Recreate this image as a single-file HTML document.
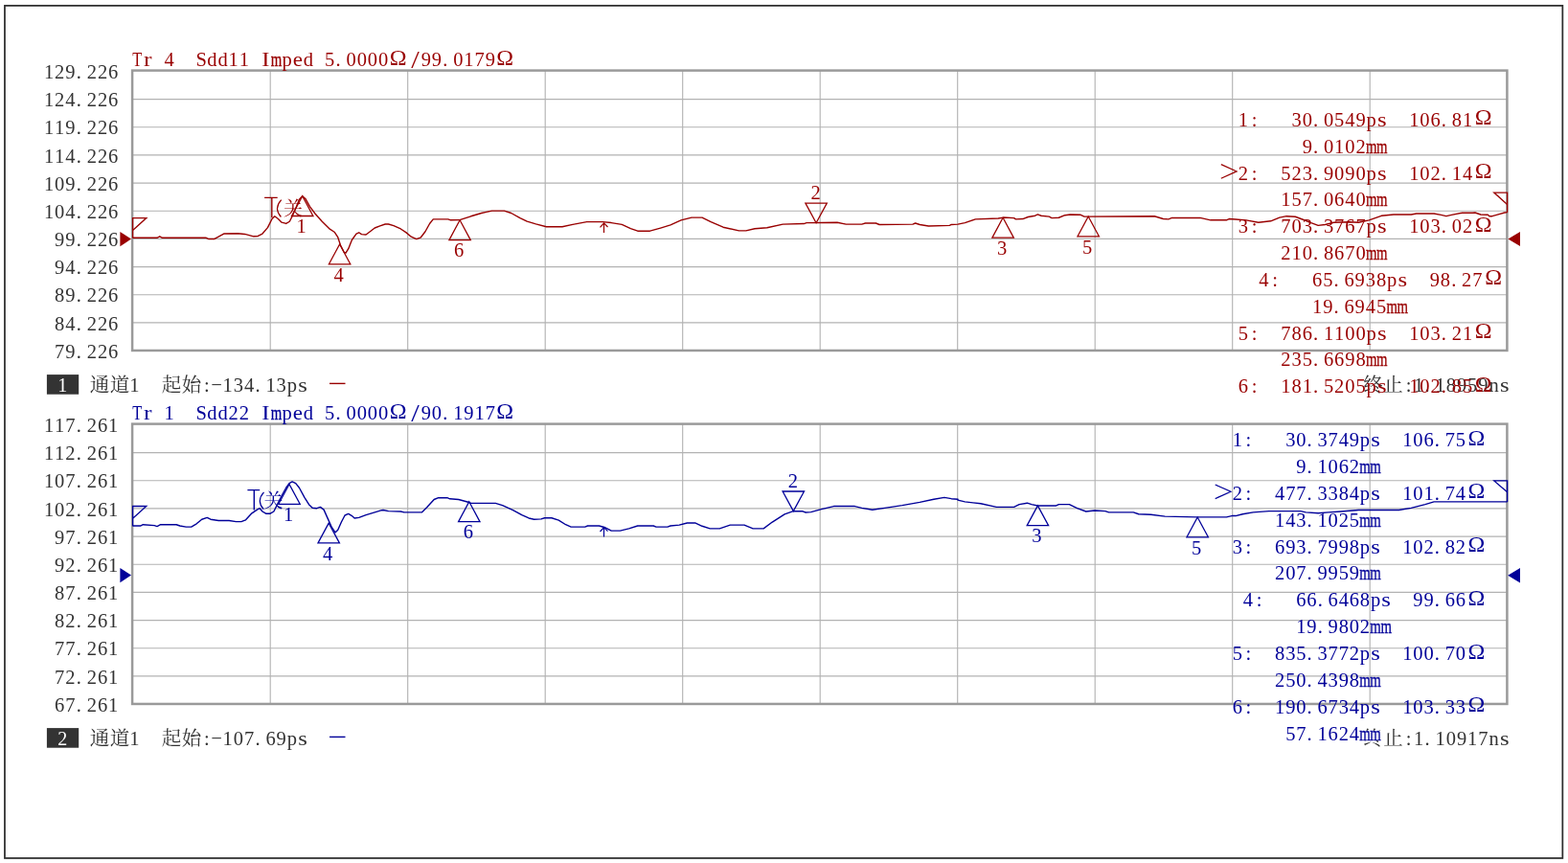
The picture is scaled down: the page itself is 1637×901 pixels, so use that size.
<!DOCTYPE html>
<html><head><meta charset="utf-8"><title>TDR</title>
<style>html,body{margin:0;padding:0;background:#fff;overflow:hidden}svg{display:block}text{font-family:"Liberation Serif",serif;text-anchor:middle;white-space:pre}text.cj{font-family:"Liberation Serif","Noto Serif CJK SC",serif}</style>
</head><body>
<svg width="1637" height="901" viewBox="0 0 1637 901">
<rect width="1637" height="901" fill="#fff"/>
<defs><filter id="gs" filterUnits="userSpaceOnUse" x="0" y="0" width="1637" height="901"><feOffset dx="0" dy="0"/></filter></defs>
<g filter="url(#gs)">
<rect x="4.95" y="5.9" width="1626.4" height="890.05" fill="none" stroke="#2d2d2d" stroke-width="1.75"/>
<path d="M282.2 73.6V365.95M138.1 103.57H1573.4M425.7 73.6V365.95M138.1 132.74H1573.4M569.2 73.6V365.95M138.1 161.91H1573.4M712.7 73.6V365.95M138.1 191.08H1573.4M856.2 73.6V365.95M138.1 220.25H1573.4M999.7 73.6V365.95M138.1 249.42H1573.4M1143.2 73.6V365.95M138.1 278.59H1573.4M1286.7 73.6V365.95M138.1 307.76H1573.4M1430.2 73.6V365.95M138.1 336.93H1573.4" stroke="#b2b2b2" stroke-width="1.12" fill="none"/>
<rect x="138.1" y="73.6" width="1435.3" height="292.35" fill="none" stroke="#9a9a9a" stroke-width="2.5"/>
<text x="51 62.2 73.4 82.3 95.8 107 118.2" y="82" fill="#333333" font-size="20.5">129.226</text>
<text x="51 62.2 73.4 82.3 95.8 107 118.2" y="111.17" fill="#333333" font-size="20.5">124.226</text>
<text x="51 62.2 73.4 82.3 95.8 107 118.2" y="140.34" fill="#333333" font-size="20.5">119.226</text>
<text x="51 62.2 73.4 82.3 95.8 107 118.2" y="169.51" fill="#333333" font-size="20.5">114.226</text>
<text x="51 62.2 73.4 82.3 95.8 107 118.2" y="198.68" fill="#333333" font-size="20.5">109.226</text>
<text x="51 62.2 73.4 82.3 95.8 107 118.2" y="227.85" fill="#333333" font-size="20.5">104.226</text>
<text x="62.2 73.4 82.3 95.8 107 118.2" y="257.02" fill="#333333" font-size="20.5">99.226</text>
<text x="62.2 73.4 82.3 95.8 107 118.2" y="286.19" fill="#333333" font-size="20.5">94.226</text>
<text x="62.2 73.4 82.3 95.8 107 118.2" y="315.36" fill="#333333" font-size="20.5">89.226</text>
<text x="62.2 73.4 82.3 95.8 107 118.2" y="344.53" fill="#333333" font-size="20.5">84.226</text>
<text x="62.2 73.4 82.3 95.8 107 118.2" y="373.7" fill="#333333" font-size="20.5">79.226</text>
<text x="176.69 210.21 221.38 232.54 243.72 254.89 299.56 321.9 344.24 353.11 366.58 377.75 388.93 400.09 444.77 455.94 464.81 478.29 489.45 500.62 511.8" y="69.2" fill="#990000" font-size="20.5">4Sdd11pd5.000099.0179</text>
<text transform="translate(143.19 69.2) scale(0.8 1)" fill="#990000" font-size="20.5">T</text>
<text transform="translate(154.35 69.2) scale(1.25 1)" fill="#990000" font-size="20.5">r</text>
<text transform="translate(277.22 69.2) scale(1.2 1)" fill="#990000" font-size="20.5">I</text>
<text transform="translate(288.39 69.2) scale(0.72 1)" fill="#990000" font-size="20.5" stroke="#990000" stroke-width="0.35">m</text>
<text transform="translate(310.73 69.2) scale(1.12 1)" fill="#990000" font-size="20.5">e</text>
<text transform="translate(415.55 67.7) scale(1 1)" fill="#990000" font-size="23.98">Ω</text>
<text transform="translate(433.6 71.4) scale(1.5 1.28)" fill="#990000" font-size="20.5">/</text>
<text transform="translate(527.25 67.7) scale(1 1)" fill="#990000" font-size="23.98">Ω</text>
<polyline points="138.33,248.28 163.98,248.28 166.73,246.81 169.48,248.28 215.3,248.28 218.04,249.56 223.54,249.56 228.12,247.18 233.62,244.06 248.28,243.7 255.61,244.43 259.28,245.34 264.78,246.81 269.36,246.44 273.94,244.06 279.44,237.65 284.02,228.48 286.77,225.74 290.43,228.48 294.1,232.15 298.68,233.43 302.34,231.23 305.09,225.74 308.76,217.49 312.42,208.33 315.72,204.66 318.84,207.41 323.42,215.66 328.92,222.99 336.25,231.23 343.58,238.56 349.08,242.23 352.74,247.73 355.49,255.97 359.16,263.3 360.99,264.22 363.74,259.64 367.4,250.48 371.98,244.06 374.73,242.78 377.48,244.61 382.06,244.98 385.73,242.23 391.23,238.01 396.72,235.82 402.22,233.98 405.5,234.03 411,235.68 418.33,238.98 423.82,242.65 429.32,247.23 434.82,249.61 439.4,247.78 443.98,241.73 448.56,233.48 452.23,228.9 467.81,228.9 470.56,229.82 480.63,229.45 491.63,225.79 502.63,222.49 513.62,220.11 526.45,220.11 533.78,222.49 542.94,227.62 550.27,231.1 559.44,233.85 570.43,236.78 586.93,236.78 597.92,234.4 612.58,231.65 629.08,231.65 638.24,232.57 649.23,234.4 658.4,238.62 665.73,241.18 678.56,241.18 689.55,238.07 700,234.95 711,229.9 721.99,227.15 732.99,227.15 742.15,231.73 754.98,237.23 771.47,240.89 778.8,240.89 787.97,238.7 800.79,237.78 817.29,234.11 839.28,233.56 842.03,232.65 874.1,232.28 883.26,234.11 899.75,234.11 903.42,233.01 914.42,233.01 918.08,234.48 952.9,234.11 955.65,233.01 960.23,234.48 969.39,235.95 991.38,235.4 993.22,234.48 1000,234.11 1007.33,232.57 1018.33,228.9 1042.15,227.99 1047.65,227.07 1058.64,227.62 1060.48,228.9 1067.81,228.54 1073.3,226.52 1080.63,225.24 1083.38,223.96 1087.05,225.24 1095.3,226.15 1098.04,227.62 1105.38,227.25 1111.79,224.69 1117.29,223.96 1128.28,224.32 1131.95,226.15 1205.25,225.79 1214.42,228.54 1219.91,228.9 1223.58,227.44 1252.9,227.44 1263.9,229.82 1280.39,229.82 1283.14,228.54 1290,228.98 1301,229.9 1313.82,232.28 1326.65,230.82 1335.82,227.15 1343.15,225.68 1352.31,226.23 1359.64,228.98 1368.8,232.65 1376.13,235.4 1383.46,234.48 1392.63,232.28 1409.12,231.73 1418.28,232.28 1429.28,229.9 1442.11,225.32 1454.93,224.03 1473.26,224.03 1478.76,222.94 1497.08,222.94 1504.42,224.4 1509.91,225.68 1515.41,224.4 1526.41,222.2 1537.4,222.2 1539.97,222.02 1545.83,224.03 1553.35,224.22 1555,225.68 1557.93,225.68 1565.07,223.67 1570.76,222.02 1573.69,221.65" fill="none" stroke="#990000" stroke-width="1.4" stroke-linejoin="round"/>
<path d="M138.6 248.3V227.6H152.8L138.6 240.4" fill="none" stroke="#990000" stroke-width="1.3"/>
<path d="M1573.6 221.7V201.1H1559.8L1573.6 213.4" fill="none" stroke="#990000" stroke-width="1.3"/>
<path d="M125.4 242V257.3L137 249.6Z" fill="#990000"/>
<path d="M1587 242.1V257L1574.4 249.5Z" fill="#990000"/>
<path d="M276.1 206.4H289.7M283.8 206.4V227.3" fill="none" stroke="#990000" stroke-width="1.4"/>
<path d="M293.7 208.6Q285.5 217.5 293.4 226.5" fill="none" stroke="#990000" stroke-width="1.2"/>
<text class="cj" x="306" y="224.97" fill="#990000" font-size="20">关</text>
<path d="M630.5 243V232.6M626.5 237.3L630.5 232.8L634.5 237" fill="none" stroke="#990000" stroke-width="1.2"/>
<path d="M315.7 204.7L304.5 225.5H326.9Z" fill="none" stroke="#990000" stroke-width="1.3"/>
<text x="314.7" y="243.2" fill="#990000" font-size="20.5">1</text>
<path d="M354.6 255L343.4 275.8H365.8Z" fill="none" stroke="#990000" stroke-width="1.3"/>
<text x="353.6" y="293.5" fill="#990000" font-size="20.5">4</text>
<path d="M480.1 229.8L468.9 250.6H491.3Z" fill="none" stroke="#990000" stroke-width="1.3"/>
<text x="479.1" y="268.3" fill="#990000" font-size="20.5">6</text>
<path d="M852.1 232.7L840.9 212.1H863.3Z" fill="none" stroke="#990000" stroke-width="1.3"/>
<text x="851.6" y="208.4" fill="#990000" font-size="20.5">2</text>
<path d="M1047.1 227.3L1035.9 248.1H1058.3Z" fill="none" stroke="#990000" stroke-width="1.3"/>
<text x="1046.1" y="265.8" fill="#990000" font-size="20.5">3</text>
<path d="M1136.2 226L1125 246.8H1147.4Z" fill="none" stroke="#990000" stroke-width="1.3"/>
<text x="1135.2" y="264.5" fill="#990000" font-size="20.5">5</text>
<rect x="48.9" y="391.1" width="33.3" height="20.6" fill="#333"/>
<text x="65.3" y="409" fill="#fff" font-size="20">1</text>
<text class="cj" x="103.9" y="408.9" fill="#333333" font-size="20.5">通</text>
<text class="cj" x="125" y="408.9" fill="#333333" font-size="20.5">道</text>
<text x="140.3" y="408.8" fill="#333333" font-size="20.5">1</text>
<text class="cj" x="179.05" y="408.75" fill="#333333" font-size="20.5">起</text>
<text class="cj" x="200" y="408.75" fill="#333333" font-size="20.5">始</text>
<text x="215.9 237.7 248.9 260.1 269 282.5 293.7 304.9" y="408.8" fill="#333333" font-size="20.5">:134.13p</text>
<text transform="translate(226.1 406.7) scale(0.9 1)" fill="#333333" font-size="20.5">–</text>
<text transform="translate(316.1 408.8) scale(1.2 1)" fill="#333333" font-size="20.5">s</text>
<path d="M344 400.4H360.5" stroke="#990000" stroke-width="1.4"/>
<text class="cj" x="1433.4" y="408.7" fill="#333333" font-size="20.5">终</text>
<text class="cj" x="1454.4" y="409.3" fill="#333333" font-size="20.5">止</text>
<text x="1470.6 1481.2 1490.1 1503.6 1514.8 1526 1537.2 1548.4 1559.6" y="408.8" fill="#333333" font-size="20.5">:1.18959n</text>
<text transform="translate(1570.8 408.8) scale(1.2 1)" fill="#333333" font-size="20.5">s</text>
<text x="1297.88 1309.62 1353.62 1364.78 1373.62 1387.08 1398.22 1409.38 1420.53 1431.67 1476.28 1487.42 1498.58 1507.42 1520.88 1532.03" y="131.8" fill="#990000" font-size="20.5">1:30.0549p106.81</text>
<text transform="translate(1442.83 131.8) scale(1.2 1)" fill="#990000" font-size="20.5">s</text>
<text transform="translate(1548.75 130.3) scale(1 1)" fill="#990000" font-size="23.98">Ω</text>
<text x="1364.78 1373.62 1387.08 1398.22 1409.38 1420.53" y="159.65" fill="#990000" font-size="20.5">9.0102</text>
<text transform="translate(1431.67 159.65) scale(0.72 1)" fill="#990000" font-size="20.5" stroke="#990000" stroke-width="0.35">m</text>
<text transform="translate(1442.83 159.65) scale(0.72 1)" fill="#990000" font-size="20.5" stroke="#990000" stroke-width="0.35">m</text>
<text x="1297.88 1309.62 1342.47 1353.62 1364.78 1373.62 1387.08 1398.22 1409.38 1420.53 1431.67 1476.28 1487.42 1498.58 1507.42 1520.88 1532.03" y="187.5" fill="#990000" font-size="20.5">2:523.9090p102.14</text>
<text transform="translate(1442.83 187.5) scale(1.2 1)" fill="#990000" font-size="20.5">s</text>
<text transform="translate(1548.75 186) scale(1 1)" fill="#990000" font-size="23.98">Ω</text>
<text x="1342.47 1353.62 1364.78 1373.62 1387.08 1398.22 1409.38 1420.53" y="215.35" fill="#990000" font-size="20.5">157.0640</text>
<text transform="translate(1431.67 215.35) scale(0.72 1)" fill="#990000" font-size="20.5" stroke="#990000" stroke-width="0.35">m</text>
<text transform="translate(1442.83 215.35) scale(0.72 1)" fill="#990000" font-size="20.5" stroke="#990000" stroke-width="0.35">m</text>
<text x="1297.88 1309.62 1342.47 1353.62 1364.78 1373.62 1387.08 1398.22 1409.38 1420.53 1431.67 1476.28 1487.42 1498.58 1507.42 1520.88 1532.03" y="243.2" fill="#990000" font-size="20.5">3:703.3767p103.02</text>
<text transform="translate(1442.83 243.2) scale(1.2 1)" fill="#990000" font-size="20.5">s</text>
<text transform="translate(1548.75 241.7) scale(1 1)" fill="#990000" font-size="23.98">Ω</text>
<text x="1342.47 1353.62 1364.78 1373.62 1387.08 1398.22 1409.38 1420.53" y="271.05" fill="#990000" font-size="20.5">210.8670</text>
<text transform="translate(1431.67 271.05) scale(0.72 1)" fill="#990000" font-size="20.5" stroke="#990000" stroke-width="0.35">m</text>
<text transform="translate(1442.83 271.05) scale(0.72 1)" fill="#990000" font-size="20.5" stroke="#990000" stroke-width="0.35">m</text>
<text x="1319.38 1331.12 1375.12 1386.28 1395.12 1408.58 1419.72 1430.88 1442.03 1453.17 1497.78 1508.92 1517.78 1531.22 1542.38" y="298.9" fill="#990000" font-size="20.5">4:65.6938p98.27</text>
<text transform="translate(1464.33 298.9) scale(1.2 1)" fill="#990000" font-size="20.5">s</text>
<text transform="translate(1559.1 297.4) scale(1 1)" fill="#990000" font-size="23.98">Ω</text>
<text x="1375.12 1386.28 1395.12 1408.58 1419.72 1430.88 1442.03" y="326.75" fill="#990000" font-size="20.5">19.6945</text>
<text transform="translate(1453.17 326.75) scale(0.72 1)" fill="#990000" font-size="20.5" stroke="#990000" stroke-width="0.35">m</text>
<text transform="translate(1464.33 326.75) scale(0.72 1)" fill="#990000" font-size="20.5" stroke="#990000" stroke-width="0.35">m</text>
<text x="1297.88 1309.62 1342.47 1353.62 1364.78 1373.62 1387.08 1398.22 1409.38 1420.53 1431.67 1476.28 1487.42 1498.58 1507.42 1520.88 1532.03" y="354.6" fill="#990000" font-size="20.5">5:786.1100p103.21</text>
<text transform="translate(1442.83 354.6) scale(1.2 1)" fill="#990000" font-size="20.5">s</text>
<text transform="translate(1548.75 353.1) scale(1 1)" fill="#990000" font-size="23.98">Ω</text>
<text x="1342.47 1353.62 1364.78 1373.62 1387.08 1398.22 1409.38 1420.53" y="382.45" fill="#990000" font-size="20.5">235.6698</text>
<text transform="translate(1431.67 382.45) scale(0.72 1)" fill="#990000" font-size="20.5" stroke="#990000" stroke-width="0.35">m</text>
<text transform="translate(1442.83 382.45) scale(0.72 1)" fill="#990000" font-size="20.5" stroke="#990000" stroke-width="0.35">m</text>
<text x="1297.88 1309.62 1342.47 1353.62 1364.78 1373.62 1387.08 1398.22 1409.38 1420.53 1431.67 1476.28 1487.42 1498.58 1507.42 1520.88 1532.03" y="410.3" fill="#990000" font-size="20.5">6:181.5205p102.85</text>
<text transform="translate(1442.83 410.3) scale(1.2 1)" fill="#990000" font-size="20.5">s</text>
<text transform="translate(1548.75 408.8) scale(1 1)" fill="#990000" font-size="23.98">Ω</text>
<path d="M1274.8 171.6L1291.1 178.9L1274.8 186.2" fill="none" stroke="#990000" stroke-width="1.2"/>
<path d="M282.2 442.6V734.95M138.1 472.57H1573.4M425.7 442.6V734.95M138.1 501.74H1573.4M569.2 442.6V734.95M138.1 530.91H1573.4M712.7 442.6V734.95M138.1 560.08H1573.4M856.2 442.6V734.95M138.1 589.25H1573.4M999.7 442.6V734.95M138.1 618.42H1573.4M1143.2 442.6V734.95M138.1 647.59H1573.4M1286.7 442.6V734.95M138.1 676.76H1573.4M1430.2 442.6V734.95M138.1 705.93H1573.4" stroke="#b2b2b2" stroke-width="1.12" fill="none"/>
<rect x="138.1" y="442.6" width="1435.3" height="292.35" fill="none" stroke="#9a9a9a" stroke-width="2.5"/>
<text x="51 62.2 73.4 82.3 95.8 107 118.2" y="451" fill="#333333" font-size="20.5">117.261</text>
<text x="51 62.2 73.4 82.3 95.8 107 118.2" y="480.17" fill="#333333" font-size="20.5">112.261</text>
<text x="51 62.2 73.4 82.3 95.8 107 118.2" y="509.34" fill="#333333" font-size="20.5">107.261</text>
<text x="51 62.2 73.4 82.3 95.8 107 118.2" y="538.51" fill="#333333" font-size="20.5">102.261</text>
<text x="62.2 73.4 82.3 95.8 107 118.2" y="567.68" fill="#333333" font-size="20.5">97.261</text>
<text x="62.2 73.4 82.3 95.8 107 118.2" y="596.85" fill="#333333" font-size="20.5">92.261</text>
<text x="62.2 73.4 82.3 95.8 107 118.2" y="626.02" fill="#333333" font-size="20.5">87.261</text>
<text x="62.2 73.4 82.3 95.8 107 118.2" y="655.19" fill="#333333" font-size="20.5">82.261</text>
<text x="62.2 73.4 82.3 95.8 107 118.2" y="684.36" fill="#333333" font-size="20.5">77.261</text>
<text x="62.2 73.4 82.3 95.8 107 118.2" y="713.53" fill="#333333" font-size="20.5">72.261</text>
<text x="62.2 73.4 82.3 95.8 107 118.2" y="742.7" fill="#333333" font-size="20.5">67.261</text>
<text x="176.69 210.21 221.38 232.54 243.72 254.89 299.56 321.9 344.24 353.11 366.58 377.75 388.93 400.09 444.77 455.94 464.81 478.29 489.45 500.62 511.8" y="438.2" fill="#000099" font-size="20.5">1Sdd22pd5.000090.1917</text>
<text transform="translate(143.19 438.2) scale(0.8 1)" fill="#000099" font-size="20.5">T</text>
<text transform="translate(154.35 438.2) scale(1.25 1)" fill="#000099" font-size="20.5">r</text>
<text transform="translate(277.22 438.2) scale(1.2 1)" fill="#000099" font-size="20.5">I</text>
<text transform="translate(288.39 438.2) scale(0.72 1)" fill="#000099" font-size="20.5" stroke="#000099" stroke-width="0.35">m</text>
<text transform="translate(310.73 438.2) scale(1.12 1)" fill="#000099" font-size="20.5">e</text>
<text transform="translate(415.55 436.7) scale(1 1)" fill="#000099" font-size="23.98">Ω</text>
<text transform="translate(433.6 440.4) scale(1.5 1.28)" fill="#000099" font-size="20.5">/</text>
<text transform="translate(527.25 436.7) scale(1 1)" fill="#000099" font-size="23.98">Ω</text>
<polyline points="138.33,549.01 146.57,549.01 149.32,547.73 161.23,548.64 163.98,549.56 167.65,547.73 184.14,547.73 187.81,549.01 194.22,550.11 199.72,550.11 205.22,546.81 210.71,542.23 216.21,540.4 219.88,542.23 228.12,543.51 239.12,543.51 246.45,544.61 251.95,544.61 256.53,542.78 262.94,535.82 268.44,532.15 271.19,530.68 273.94,533.98 277.6,536.18 282.19,536.18 285.85,533.98 289.52,526.65 294.1,517.49 298.68,509.24 302.34,504.29 305.09,502.83 308.76,504.66 312.42,509.24 317.92,519.32 322.5,526.65 326.17,530.32 330.75,530.68 334.42,529.4 338.08,532.15 341.75,540.4 346.33,550.48 349.99,555.97 352.74,553.23 356.41,544.98 360.07,538.01 363.74,536.37 367.4,538.56 370.15,540.95 374.73,540.4 382.06,537.65 391.23,534.9 398.56,532.7 400,532.52 405.5,533.62 418.33,533.98 421.99,534.9 440.32,534.9 445.82,529.4 453.15,521.52 457.73,519.69 466.89,519.69 469.64,520.79 478.8,521.52 489.8,524.45 491.63,525.37 517.29,525.37 524.62,527.57 535.61,532.52 544.78,537.65 552.11,540.95 557.6,542.23 564.93,541.86 568.6,540.76 575.93,540.76 583.26,543.15 590.59,547.73 596.09,550.11 610.75,550.11 613.5,549.01 625.41,549.01 630.91,550.48 638.24,554.14 647.4,554.14 656.57,551.94 665.73,549.01 682.22,549.01 684.97,550.11 696.88,550.11 700,549.01 709.16,548.17 717.41,545.97 725.66,545.97 732.99,549.27 741.23,551.84 751.31,551.84 762.31,548.17 776.97,548.17 786.13,551.84 797.13,551.84 806.29,545.06 819.12,536.81 828.28,533.7 837.45,533.7 841.11,534.98 846.61,534.61 857.6,531.68 870.43,528.56 892.42,528.56 899.75,530.4 910.75,532.23 923.58,530.4 941.9,527.65 960.23,524.35 974.89,521.23 985.89,519.4 993.22,520.68 1000,521.23 1000,522.07 1007.33,523.9 1023.82,525.74 1040.32,529.4 1058.64,529.4 1064.14,526.65 1072.39,525.19 1076.97,526.65 1083.38,527.94 1102.63,527.94 1105.38,526.65 1116.37,526.65 1124.62,530.68 1133.78,533.98 1142.94,533.07 1153.94,533.62 1157.6,534.9 1183.26,534.9 1188.76,536.73 1201.59,537.28 1216.25,539.11 1249.23,539.85 1280.39,539.85 1285.89,538.56 1290,538.56 1297.33,536.73 1308.33,534.9 1324.82,533.62 1357.81,533.62 1363.3,534.9 1376.13,535.82 1387.13,534.9 1399.96,533.98 1418.28,532.52 1460.43,532.52 1473.26,530.32 1487.92,526.65 1497.08,523.9 1573.69,523.9" fill="none" stroke="#000099" stroke-width="1.4" stroke-linejoin="round"/>
<path d="M138.6 549V528.5H152.8L138.6 541.3" fill="none" stroke="#000099" stroke-width="1.3"/>
<path d="M1573.6 523.9V501.9H1559.8L1573.6 513.8" fill="none" stroke="#000099" stroke-width="1.3"/>
<path d="M125.4 593.1V608.3L137 600.6Z" fill="#000099"/>
<path d="M1587 593V608.5L1574.2 600.7Z" fill="#000099"/>
<path d="M258.4 511.6H271.2M265.3 511.6V532.5" fill="none" stroke="#000099" stroke-width="1.4"/>
<path d="M275.5 513.8Q267.3 522.7 275.2 531.7" fill="none" stroke="#000099" stroke-width="1.2"/>
<text class="cj" x="285.4" y="530.17" fill="#000099" font-size="20">关</text>
<path d="M630.5 560.5V550.5M626.5 555L630.5 550.6L634.5 554.6" fill="none" stroke="#000099" stroke-width="1.2"/>
<path d="M302 505.5L290.8 526.3H313.2Z" fill="none" stroke="#000099" stroke-width="1.3"/>
<text x="301" y="544" fill="#000099" font-size="20.5">1</text>
<path d="M343.2 546.1L332 566.9H354.4Z" fill="none" stroke="#000099" stroke-width="1.3"/>
<text x="342.2" y="584.6" fill="#000099" font-size="20.5">4</text>
<path d="M489.8 523.8L478.6 544.6H501Z" fill="none" stroke="#000099" stroke-width="1.3"/>
<text x="488.8" y="562.3" fill="#000099" font-size="20.5">6</text>
<path d="M828.3 533.6L817.1 513H839.5Z" fill="none" stroke="#000099" stroke-width="1.3"/>
<text x="827.8" y="509.3" fill="#000099" font-size="20.5">2</text>
<path d="M1083.4 527.9L1072.2 548.7H1094.6Z" fill="none" stroke="#000099" stroke-width="1.3"/>
<text x="1082.4" y="566.4" fill="#000099" font-size="20.5">3</text>
<path d="M1250.2 540L1239 560.8H1261.4Z" fill="none" stroke="#000099" stroke-width="1.3"/>
<text x="1249.2" y="578.5" fill="#000099" font-size="20.5">5</text>
<rect x="48.9" y="760.1" width="33.3" height="20.6" fill="#333"/>
<text x="65.3" y="778" fill="#fff" font-size="20">2</text>
<text class="cj" x="103.9" y="777.9" fill="#333333" font-size="20.5">通</text>
<text class="cj" x="125" y="777.9" fill="#333333" font-size="20.5">道</text>
<text x="140.3" y="777.8" fill="#333333" font-size="20.5">1</text>
<text class="cj" x="179.05" y="777.75" fill="#333333" font-size="20.5">起</text>
<text class="cj" x="200" y="777.75" fill="#333333" font-size="20.5">始</text>
<text x="215.9 237.7 248.9 260.1 269 282.5 293.7 304.9" y="777.8" fill="#333333" font-size="20.5">:107.69p</text>
<text transform="translate(226.1 775.7) scale(0.9 1)" fill="#333333" font-size="20.5">–</text>
<text transform="translate(316.1 777.8) scale(1.2 1)" fill="#333333" font-size="20.5">s</text>
<path d="M344 769.4H360.5" stroke="#000099" stroke-width="1.4"/>
<clipPath id="cz"><rect x="1420" y="755" width="30" height="7.7"/><rect x="1420" y="773.1" width="30" height="10"/></clipPath><g clip-path="url(#cz)">
<text class="cj" x="1433.4" y="777.7" fill="#333333" font-size="20.5">终</text>
</g>
<text class="cj" x="1454.4" y="778.3" fill="#333333" font-size="20.5">止</text>
<text x="1470.6 1481.2 1490.1 1503.6 1514.8 1526 1537.2 1548.4 1559.6" y="777.8" fill="#333333" font-size="20.5">:1.10917n</text>
<text transform="translate(1570.8 777.8) scale(1.2 1)" fill="#333333" font-size="20.5">s</text>
<text x="1291.75 1303.45 1347.25 1358.35 1367.15 1380.55 1391.65 1402.75 1413.85 1424.95 1469.35 1480.45 1491.55 1500.35 1513.75 1524.85" y="466.2" fill="#000099" font-size="20.5">1:30.3749p106.75</text>
<text transform="translate(1436.05 466.2) scale(1.2 1)" fill="#000099" font-size="20.5">s</text>
<text transform="translate(1541.5 464.7) scale(1 1)" fill="#000099" font-size="23.98">Ω</text>
<text x="1358.35 1367.15 1380.55 1391.65 1402.75 1413.85" y="494.05" fill="#000099" font-size="20.5">9.1062</text>
<text transform="translate(1424.95 494.05) scale(0.72 1)" fill="#000099" font-size="20.5" stroke="#000099" stroke-width="0.35">m</text>
<text transform="translate(1436.05 494.05) scale(0.72 1)" fill="#000099" font-size="20.5" stroke="#000099" stroke-width="0.35">m</text>
<text x="1291.75 1303.45 1336.15 1347.25 1358.35 1367.15 1380.55 1391.65 1402.75 1413.85 1424.95 1469.35 1480.45 1491.55 1500.35 1513.75 1524.85" y="521.9" fill="#000099" font-size="20.5">2:477.3384p101.74</text>
<text transform="translate(1436.05 521.9) scale(1.2 1)" fill="#000099" font-size="20.5">s</text>
<text transform="translate(1541.5 520.4) scale(1 1)" fill="#000099" font-size="23.98">Ω</text>
<text x="1336.15 1347.25 1358.35 1367.15 1380.55 1391.65 1402.75 1413.85" y="549.75" fill="#000099" font-size="20.5">143.1025</text>
<text transform="translate(1424.95 549.75) scale(0.72 1)" fill="#000099" font-size="20.5" stroke="#000099" stroke-width="0.35">m</text>
<text transform="translate(1436.05 549.75) scale(0.72 1)" fill="#000099" font-size="20.5" stroke="#000099" stroke-width="0.35">m</text>
<text x="1291.75 1303.45 1336.15 1347.25 1358.35 1367.15 1380.55 1391.65 1402.75 1413.85 1424.95 1469.35 1480.45 1491.55 1500.35 1513.75 1524.85" y="577.6" fill="#000099" font-size="20.5">3:693.7998p102.82</text>
<text transform="translate(1436.05 577.6) scale(1.2 1)" fill="#000099" font-size="20.5">s</text>
<text transform="translate(1541.5 576.1) scale(1 1)" fill="#000099" font-size="23.98">Ω</text>
<text x="1336.15 1347.25 1358.35 1367.15 1380.55 1391.65 1402.75 1413.85" y="605.45" fill="#000099" font-size="20.5">207.9959</text>
<text transform="translate(1424.95 605.45) scale(0.72 1)" fill="#000099" font-size="20.5" stroke="#000099" stroke-width="0.35">m</text>
<text transform="translate(1436.05 605.45) scale(0.72 1)" fill="#000099" font-size="20.5" stroke="#000099" stroke-width="0.35">m</text>
<text x="1302.85 1314.55 1358.35 1369.45 1378.25 1391.65 1402.75 1413.85 1424.95 1436.05 1480.45 1491.55 1500.35 1513.75 1524.85" y="633.3" fill="#000099" font-size="20.5">4:66.6468p99.66</text>
<text transform="translate(1447.15 633.3) scale(1.2 1)" fill="#000099" font-size="20.5">s</text>
<text transform="translate(1541.5 631.8) scale(1 1)" fill="#000099" font-size="23.98">Ω</text>
<text x="1358.35 1369.45 1378.25 1391.65 1402.75 1413.85 1424.95" y="661.15" fill="#000099" font-size="20.5">19.9802</text>
<text transform="translate(1436.05 661.15) scale(0.72 1)" fill="#000099" font-size="20.5" stroke="#000099" stroke-width="0.35">m</text>
<text transform="translate(1447.15 661.15) scale(0.72 1)" fill="#000099" font-size="20.5" stroke="#000099" stroke-width="0.35">m</text>
<text x="1291.75 1303.45 1336.15 1347.25 1358.35 1367.15 1380.55 1391.65 1402.75 1413.85 1424.95 1469.35 1480.45 1491.55 1500.35 1513.75 1524.85" y="689" fill="#000099" font-size="20.5">5:835.3772p100.70</text>
<text transform="translate(1436.05 689) scale(1.2 1)" fill="#000099" font-size="20.5">s</text>
<text transform="translate(1541.5 687.5) scale(1 1)" fill="#000099" font-size="23.98">Ω</text>
<text x="1336.15 1347.25 1358.35 1367.15 1380.55 1391.65 1402.75 1413.85" y="716.85" fill="#000099" font-size="20.5">250.4398</text>
<text transform="translate(1424.95 716.85) scale(0.72 1)" fill="#000099" font-size="20.5" stroke="#000099" stroke-width="0.35">m</text>
<text transform="translate(1436.05 716.85) scale(0.72 1)" fill="#000099" font-size="20.5" stroke="#000099" stroke-width="0.35">m</text>
<text x="1291.75 1303.45 1336.15 1347.25 1358.35 1367.15 1380.55 1391.65 1402.75 1413.85 1424.95 1469.35 1480.45 1491.55 1500.35 1513.75 1524.85" y="744.7" fill="#000099" font-size="20.5">6:190.6734p103.33</text>
<text transform="translate(1436.05 744.7) scale(1.2 1)" fill="#000099" font-size="20.5">s</text>
<text transform="translate(1541.5 743.2) scale(1 1)" fill="#000099" font-size="23.98">Ω</text>
<text x="1347.25 1358.35 1367.15 1380.55 1391.65 1402.75 1413.85" y="772.55" fill="#000099" font-size="20.5">57.1624</text>
<text transform="translate(1424.95 772.55) scale(0.72 1)" fill="#000099" font-size="20.5" stroke="#000099" stroke-width="0.35">m</text>
<text transform="translate(1436.05 772.55) scale(0.72 1)" fill="#000099" font-size="20.5" stroke="#000099" stroke-width="0.35">m</text>
<path d="M1268.7 506L1285 513.3L1268.7 520.6" fill="none" stroke="#000099" stroke-width="1.2"/>
</g></svg></body></html>
